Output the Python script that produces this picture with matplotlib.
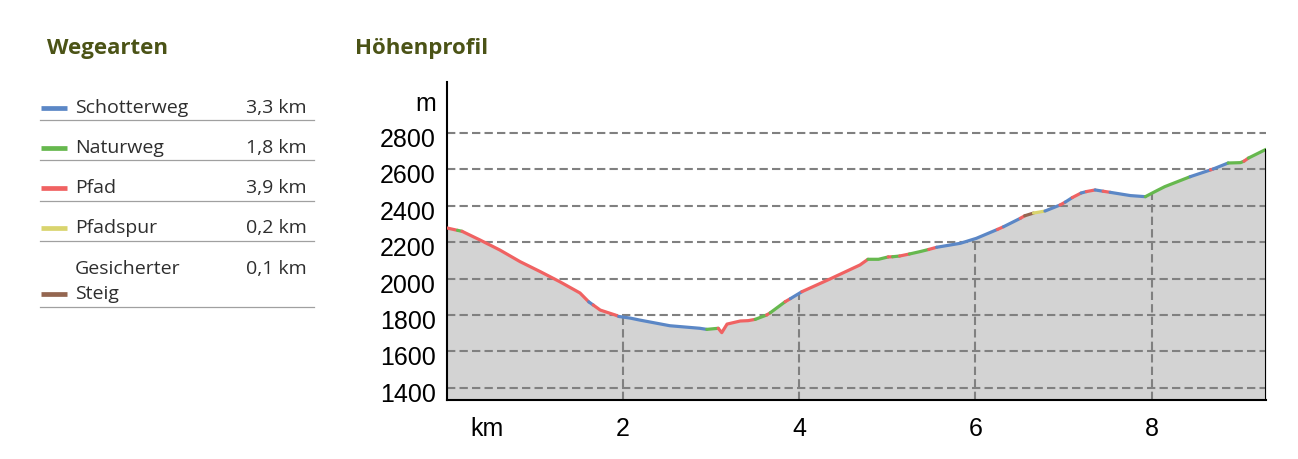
import numpy as np
import matplotlib.pyplot as plt
from matplotlib.transforms import ScaledTranslation

plt.rcParams['font.family'] = ['Liberation Sans', 'DejaVu Sans']

#Wegearten table (left panel)
wege_names = ["Schotterweg", "Naturweg", "Pfad", "Pfadspur", "Gesicherter\nSteig"]
wege_km = ["3,3 km", "1,8 km", "3,9 km", "0,2 km", "0,1 km"]
wege_codes = ["S", "N", "P", "Y", "B"]
wege_colors = ["#5b87c6", "#66b84e", "#f06262", "#d9d46e", "#946650"]

#height profile: distance in km, elevation in m
dist_km = [0.00, 0.12, 0.17, 0.375, 0.60, 0.83, 1.06, 1.28, 1.51, 1.61,
           1.66, 1.74, 1.91, 1.95, 2.08, 2.19, 2.53, 2.87, 2.95, 3.08,
           3.12, 3.18, 3.33, 3.42, 3.50, 3.63, 3.67, 3.84, 3.90, 4.03,
           4.24, 4.35, 4.69, 4.78, 4.90, 5.01, 5.06, 5.14, 5.25, 5.37,
           5.47, 5.56, 5.83, 6.01, 6.25, 6.32, 6.51, 6.56, 6.66, 6.79,
           6.96, 7.02, 7.10, 7.20, 7.26, 7.36, 7.45, 7.53, 7.76, 7.93,
           8.04, 8.15, 8.44, 8.67, 8.70, 8.87, 9.01, 9.05, 9.10, 9.30]
elev_m = [2278, 2265, 2260, 2212, 2157, 2093, 2038, 1983, 1921, 1872,
          1855, 1827, 1800, 1792, 1783, 1772, 1741, 1727, 1721, 1727,
          1703, 1750, 1767, 1769, 1776, 1800, 1812, 1873, 1890, 1928,
          1974, 1998, 2075, 2106, 2106, 2119, 2120, 2124, 2135, 2148,
          2160, 2172, 2194, 2221, 2270, 2285, 2331, 2345, 2360, 2371,
          2404, 2420, 2445, 2470, 2478, 2487, 2480, 2474, 2456, 2450,
          2478, 2505, 2560, 2597, 2602, 2635, 2637, 2645, 2662, 2710]
#path type from each point to the next one
surface = ["P", "N", "P", "P", "P", "P", "P", "P", "P", "S",
           "P", "P", "P", "S", "S", "S", "S", "S", "N", "P",
           "P", "P", "P", "P", "N", "P", "N", "P", "S", "P",
           "P", "P", "P", "N", "N", "P", "N", "P", "N", "N",
           "P", "S", "S", "S", "P", "S", "P", "B", "Y", "S",
           "P", "S", "P", "S", "P", "S", "P", "S", "S", "N",
           "N", "N", "S", "P", "S", "N", "N", "P", "N"]

y_ticks = [1400, 1600, 1800, 2000, 2200, 2400, 2600, 2800, 3000]
y_labels = ["1400", "1600", "1800", "2000", "2200", "2400", "2600", "2800", "m"]
grid_y = [1400, 1600, 1800, 2000, 2200, 2400, 2600, 2800]
x_ticks = [0.45, 2, 4, 6, 8]
x_labels = ["km", "2", "4", "6", "8"]
grid_x = [2, 4, 6, 8]

title_color = "#4b5316"
text_color = "#2e2e2e"
grid_color = "#808080"

fig = plt.figure(figsize=(12.98, 4.59), dpi=100)

#overlay in pixel coordinates for the left table and the headings
lax = fig.add_axes([0, 0, 1, 1], zorder=-1)
lax.set_xlim(0, 1298)
lax.set_ylim(459, 0)
lax.axis('off')

lax.text(47, 54, "Wegearten", fontsize=16, fontweight='bold', color=title_color,
         family=['Open Sans', 'DejaVu Sans'], va='baseline')
lax.text(355, 54, "Höhenprofil", fontsize=16, fontweight='bold', color=title_color,
         family=['Open Sans', 'DejaVu Sans'], va='baseline')

base = 112.7
for i in range(len(wege_names)):
    lines = wege_names[i].split("\n")
    for j, ln in enumerate(lines):
        lax.text(75, base + j * 25.7, ln, fontsize=14, color=text_color,
                 family=['Open Sans', 'DejaVu Sans'], va='baseline')
    last = base + (len(lines) - 1) * 25.7
    lax.text(307, base, wege_km[i], fontsize=14, color=text_color,
             family=['Open Sans', 'DejaVu Sans'], va='baseline', ha='right')
    lax.plot([41, 67], [last - 5, last - 5], color=wege_colors[i], lw=3.4,
             solid_capstyle='butt')
    lax.plot([40, 314], [last + 7.5, last + 7.5], color="#a0a0a0", lw=0.9)
    base = last + 40.2

#profile chart
ax = fig.add_axes([447 / 1298, 1 - 400 / 459, 819 / 1298, 318 / 459])
ymin, ymax = 1333, 3080
ax.set_xlim(0, dist_km[-1])
ax.set_ylim(ymin, ymax)

dist = np.array(dist_km)
elev = np.array(elev_m)
ax.fill_between(dist, elev, ymin, color="#d3d3d3", lw=0, zorder=1)

for gy in grid_y:
    ax.axhline(gy, color=grid_color, lw=1.5, dashes=(4, 2), zorder=2)
for gx in grid_x:
    ax.vlines(gx, ymin, np.interp(gx, dist, elev), color=grid_color, lw=1.5,
              linestyles=(0, (4, 2)), zorder=2)

#colored path segments, grouped into runs of the same type
code_color = dict(zip(wege_codes, wege_colors))
start = 0
for k in range(1, len(surface) + 1):
    if k == len(surface) or surface[k] != surface[start]:
        ax.plot(dist[start:k + 1], elev[start:k + 1], color=code_color[surface[start]],
                lw=2.3, solid_capstyle='round', solid_joinstyle='round', zorder=3)
        start = k

ax.vlines(dist[-1], ymin, elev[-1], color='black', lw=1.5, zorder=4)

for s in ['top', 'right']:
    ax.spines[s].set_visible(False)
for s in ['left', 'bottom']:
    ax.spines[s].set_linewidth(1.5)
    ax.spines[s].set_color('black')

ax.set_yticks(y_ticks)
ax.set_yticklabels(y_labels)
ax.set_xticks(x_ticks)
ax.set_xticklabels(x_labels)
ax.tick_params(axis='both', length=0, labelsize=18, colors='black')
ax.tick_params(axis='y', pad=8)
ax.tick_params(axis='x', pad=12)
shift = ScaledTranslation(0, -4.5 / 100, fig.dpi_scale_trans)
for lbl in ax.get_yticklabels():
    lbl.set_transform(lbl.get_transform() + shift)

fig.savefig("out.png", dpi=100)
